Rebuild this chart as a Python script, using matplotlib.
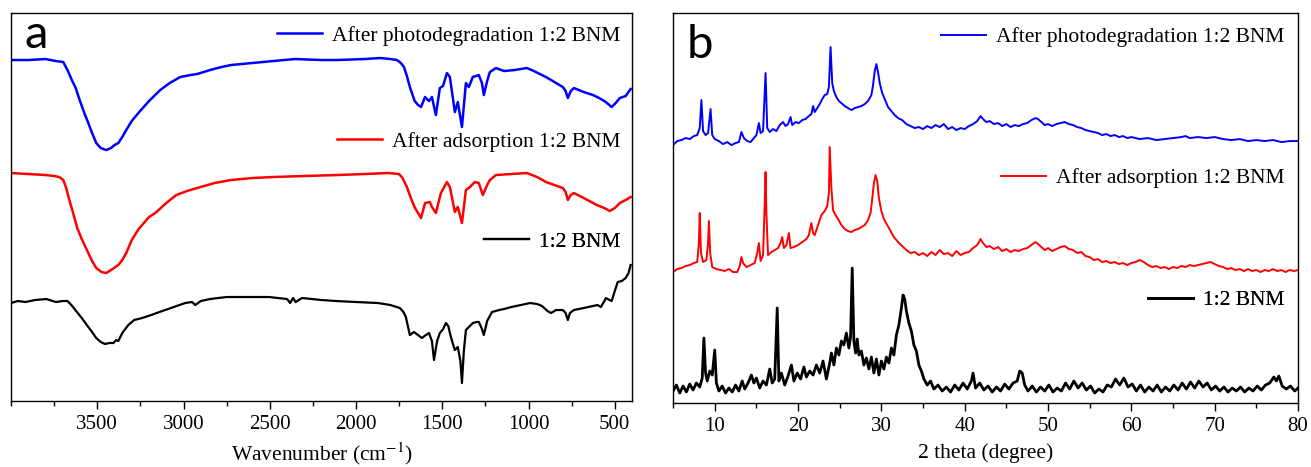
import matplotlib
matplotlib.use("Agg")
import matplotlib.pyplot as plt
from matplotlib.ticker import MultipleLocator

# ---- FTIR (panel a): wavenumber (cm-1) vs transmittance (a.u., offset) ----
wn_blue = [4000, 3900, 3800, 3740, 3697, 3670, 3645, 3627, 3600, 3575, 3552, 3530,
           3506, 3480, 3448, 3420, 3400, 3378, 3355, 3332, 3300, 3262, 3200, 3135,
           3080, 3019, 2960, 2921, 2846, 2780, 2724, 2602, 2480, 2353, 2200, 2110,
           1950, 1861, 1800, 1763, 1740, 1722, 1705, 1688, 1660, 1640, 1623, 1600,
           1577, 1560, 1537, 1514, 1496, 1473, 1456, 1427, 1410, 1386, 1363, 1346,
           1323, 1288, 1270, 1259, 1240, 1224, 1189, 1142, 1080, 1010, 969, 899,
           850, 801, 785, 772, 755, 737, 680, 627, 590, 552, 518, 495, 471, 437, 408]
ftir_blue = [341, 341, 342, 340, 339, 330, 320, 314, 300, 288, 278, 268,
             258, 253, 251, 253, 256, 258, 264, 271, 280, 288, 300, 311,
             318, 324, 326, 327, 331, 334, 336, 338, 340, 342, 341, 341,
             342, 343, 342, 341, 338, 334, 325, 314, 300, 296, 294, 304,
             300, 304, 286, 313, 315, 328, 324, 289, 299, 274, 318, 314,
             324, 326, 318, 306, 320, 329, 333, 330, 331, 333, 330, 324,
             319, 314, 310, 303, 310, 313, 309, 306, 303, 299, 294, 298, 303, 305, 312]

wn_red = [4000, 3900, 3800, 3749, 3720, 3697, 3680, 3662, 3640, 3616, 3590, 3552,
          3530, 3506, 3475, 3448, 3420, 3378, 3355, 3332, 3300, 3260, 3200, 3164,
          3100, 3042, 2980, 2921, 2820, 2724, 2600, 2481, 2300, 2110, 1950, 1815,
          1751, 1730, 1705, 1680, 1658, 1623, 1600, 1572, 1560, 1537, 1508, 1473,
          1456, 1427, 1410, 1386, 1363, 1340, 1311, 1288, 1265, 1240, 1224, 1189,
          1100, 1010, 950, 899, 850, 801, 785, 772, 755, 737, 680, 604, 560, 529,
          500, 471, 437, 408]
ftir_red = [228, 227, 226, 225, 224, 221, 213, 201, 188, 173, 162, 148,
            140, 133, 129, 128, 131, 136, 141, 148, 161, 172, 184, 188,
            198, 206, 210, 213, 218, 221, 223, 224, 225, 226, 227, 228,
            227, 223, 214, 202, 193, 183, 198, 199, 194, 188, 208, 219,
            214, 189, 194, 178, 211, 214, 219, 218, 206, 216, 221, 226,
            227, 228, 224, 219, 216, 213, 209, 201, 206, 208, 203, 196, 193, 190,
            193, 198, 201, 204]

wn_black = [4000, 3960, 3917, 3860, 3795, 3740, 3700, 3673, 3650, 3627, 3590, 3552,
            3530, 3506, 3480, 3455, 3430, 3407, 3390, 3378, 3355, 3320, 3286, 3240,
            3187, 3140, 3089, 3040, 2990, 2950, 2932, 2900, 2846, 2800, 2747, 2650,
            2504, 2400, 2382, 2365, 2350, 2313, 2200, 2116, 2000, 1873, 1800, 1746,
            1725, 1711, 1688, 1664, 1641, 1618, 1595, 1577, 1560, 1548, 1530, 1514,
            1495, 1479, 1465, 1456, 1440, 1427, 1410, 1395, 1386, 1375, 1363, 1340,
            1323, 1300, 1288, 1270, 1259, 1240, 1212, 1170, 1142, 1100, 1044, 992,
            950, 922, 890, 870, 840, 801, 785, 772, 760, 737, 680, 627, 600, 581,
            560, 552, 530, 518, 500, 483, 460, 437, 420, 408]
ftir_black = [98, 100, 99, 101, 102, 99, 100, 100, 96, 91, 83, 74,
              69, 63, 59, 57, 58, 58, 61, 60, 68, 76, 81, 83,
              86, 89, 92, 95, 98, 99, 96, 100, 102, 103, 104, 104,
              104, 102, 98, 103, 99, 103, 101, 100, 99, 98, 96, 93,
              89, 84, 66, 69, 66, 63, 66, 68, 60, 41, 60, 68,
              72, 78, 75, 68, 58, 51, 54, 40, 18, 50, 71, 75,
              78, 79, 79, 72, 66, 80, 89, 91, 92, 94, 96, 98,
              97, 95, 90, 88, 91, 91, 88, 81, 88, 91, 93, 95, 96, 94,
              100, 103, 101, 100, 110, 119, 120, 123, 128, 136]

# ---- XRD (panel b): 2 theta (degree) vs intensity (a.u., offset) ----
tt_blue = [5.0, 5.5, 6.0, 6.5, 7.0, 7.5, 7.9, 8.2, 8.4, 8.6, 8.9, 9.2, 9.5, 9.7,
           10.0, 10.5, 11.0, 11.5, 12.0, 12.5, 12.9, 13.2, 13.5, 13.9, 14.3, 14.7,
           15.0, 15.3, 15.5, 15.8, 16.1, 16.3, 16.6, 17.0, 17.4, 17.8, 18.2, 18.5,
           18.8, 19.1, 19.3, 19.7, 20.1, 20.5, 20.9, 21.3, 21.6, 21.8, 22.0, 22.3,
           22.6, 22.9, 23.2, 23.5, 23.7, 23.9, 24.1, 24.3, 24.6, 24.9, 25.2, 25.6,
           26.0, 26.4, 26.8, 27.2, 27.6, 28.0, 28.4, 28.8, 29.0, 29.2, 29.4, 29.6,
           29.8, 30.1, 30.4, 30.8, 31.2, 31.6, 32.0, 32.5, 33.0, 33.5, 34.0, 34.5,
           35.0, 35.5, 36.0, 36.5, 37.0, 37.5, 38.0, 38.5, 39.0, 39.5, 40.0, 40.5,
           41.0, 41.5, 41.9, 42.2, 42.6, 43.0, 43.5, 44.0, 44.5, 45.0, 45.5, 46.0,
           46.5, 47.0, 47.5, 48.0, 48.5, 48.8, 49.2, 49.6, 50.0, 50.5, 51.0, 51.5,
           52.0, 52.5, 53.0, 53.5, 54.0, 54.5, 55.0, 55.5, 56.0, 56.5, 57.0, 57.5,
           58.0, 58.5, 59.0, 59.5, 60.0, 61.0, 62.0, 63.0, 64.0, 65.0, 66.0, 66.5,
           67.0, 68.0, 69.0, 70.0, 71.0, 72.0, 73.0, 74.0, 75.0, 76.0, 77.0, 78.0,
           79.0, 80.0]
xrd_blue = [258, 262, 263, 265, 264, 267, 268, 275, 303, 272, 268, 270, 294, 268,
            264, 262, 259, 261, 258, 260, 261, 271, 265, 262, 261, 265,
            268, 280, 270, 272, 330, 275, 271, 274, 272, 278, 281, 277,
            279, 286, 278, 281, 280, 283, 284, 287, 289, 297, 291, 295,
            299, 304, 308, 309, 316, 356, 320, 312, 306, 302, 300, 297,
            295, 293, 295, 296, 297, 299, 302, 308, 318, 332, 339, 331,
            320, 310, 304, 296, 292, 288, 285, 283, 279, 277, 275, 276,
            274, 277, 275, 278, 276, 279, 274, 276, 273, 275, 274, 277,
            279, 282, 287, 284, 281, 282, 279, 280, 277, 279, 276, 278,
            277, 279, 280, 283, 285, 284, 281, 278, 279, 277, 279, 280,
            281, 279, 278, 276, 275, 273, 272, 271, 270, 268, 269, 267,
            268, 266, 267, 265, 266, 264, 265, 263, 264, 265, 266, 267,
            265, 266, 265, 266, 264, 263, 264, 262, 263, 262, 263, 261,
            262, 262]

tt_red = [5.0, 5.5, 6.0, 6.5, 7.0, 7.5, 7.9, 8.1, 8.2, 8.35, 8.6, 9.0, 9.2, 9.3,
          9.45, 9.7, 10.2, 10.7, 11.2, 11.7, 12.2, 12.7, 13.0, 13.2, 13.4, 13.8,
          14.3, 14.8, 15.1, 15.3, 15.5, 15.8, 16.0, 16.1, 16.2, 16.4, 16.8, 17.2,
          17.6, 17.9, 18.1, 18.3, 18.6, 18.9, 19.1, 19.5, 20.0, 20.5, 21.0, 21.3,
          21.6, 21.8, 22.0, 22.4, 22.8, 23.2, 23.5, 23.7, 23.8, 24.0, 24.2, 24.5,
          24.8, 25.2, 25.6, 26.0, 26.4, 26.8, 27.2, 27.6, 28.0, 28.4, 28.7, 28.9,
          29.1, 29.3, 29.5, 29.7, 30.0, 30.3, 30.7, 31.1, 31.5, 32.0, 32.5, 33.0,
          33.5, 34.0, 34.5, 35.0, 35.5, 36.0, 36.5, 37.0, 37.5, 38.0, 38.5, 39.0,
          39.5, 40.0, 40.5, 41.0, 41.5, 41.9, 42.2, 42.6, 43.0, 43.5, 44.0, 44.5,
          45.0, 45.5, 46.0, 46.5, 47.0, 47.5, 48.0, 48.5, 48.8, 49.2, 49.6, 50.0,
          50.5, 51.0, 51.5, 52.0, 52.5, 53.0, 53.5, 54.0, 54.5, 55.0, 55.5, 56.0,
          56.5, 57.0, 57.5, 58.0, 58.5, 59.0, 59.5, 60.0, 60.5, 61.0, 61.5, 62.0,
          62.5, 63.0, 63.5, 64.0, 64.5, 65.0, 65.5, 66.0, 66.5, 67.0, 67.5, 68.0,
          68.5, 69.0, 69.5, 70.0, 70.5, 71.0, 71.5, 72.0, 72.5, 73.0, 73.5, 74.0,
          74.5, 75.0, 75.5, 76.0, 76.5, 77.0, 77.5, 78.0, 78.5, 79.0, 79.5, 80.0]
xrd_red = [131, 134, 135, 137, 138, 140, 141, 160, 190, 150, 141, 143, 160, 182,
           150, 136, 134, 133, 132, 134, 131, 131, 137, 146, 140, 136,
           138, 140, 150, 160, 142, 148, 200, 231, 190, 148, 151, 153,
           155, 160, 166, 155, 158, 170, 155, 156, 158, 161, 164, 168,
           180, 170, 168, 178, 188, 192, 197, 210, 256, 215, 193, 188,
           184, 178, 174, 172, 171, 173, 174, 176, 178, 183, 190, 204,
           220, 228, 222, 205, 192, 184, 178, 172, 166, 161, 157, 153,
           150, 151, 148, 150, 147, 151, 148, 153, 149, 150, 147, 152,
           148, 150, 151, 155, 158, 164, 160, 156, 157, 154, 156, 152,
           154, 151, 153, 152, 154, 155, 158, 161, 159, 156, 153, 155,
           152, 154, 156, 157, 154, 153, 150, 151, 147, 146, 143, 144,
           141, 142, 140, 141, 139, 140, 138, 140, 141, 143, 141, 138,
           136, 137, 135, 136, 134, 136, 135, 137, 136, 138, 137, 138,
           139, 140, 141, 139, 137, 136, 134, 135, 133, 134, 132, 134,
           132, 133, 131, 133, 132, 134, 132, 133, 131, 133, 132, 133]

tt_black = [5.0, 5.4, 5.8, 6.2, 6.6, 7.0, 7.4, 7.8, 8.2, 8.5, 8.7, 8.9, 9.1, 9.4,
            9.7, 10.0, 10.2, 10.5, 10.9, 11.3, 11.7, 12.1, 12.5, 12.9, 13.3, 13.6,
            14.0, 14.4, 14.7, 15.0, 15.4, 15.8, 16.2, 16.6, 16.9, 17.2, 17.5, 17.7,
            18.0, 18.4, 18.8, 19.2, 19.5, 19.9, 20.3, 20.7, 21.0, 21.4, 21.8, 22.2,
            22.6, 23.0, 23.4, 23.8, 24.0, 24.3, 24.6, 24.9, 25.2, 25.5, 25.8, 26.1,
            26.3, 26.5, 26.7, 26.9, 27.1, 27.3, 27.6, 27.9, 28.2, 28.5, 28.8, 29.1,
            29.4, 29.7, 30.0, 30.3, 30.6, 30.9, 31.2, 31.5, 31.8, 32.1, 32.4, 32.6,
            32.8, 33.0, 33.3, 33.6, 33.9, 34.2, 34.5, 34.8, 35.1, 35.5, 35.9, 36.3,
            36.8, 37.3, 37.8, 38.3, 38.8, 39.3, 39.8, 40.3, 40.8, 41.0, 41.3, 41.8,
            42.3, 42.8, 43.3, 43.8, 44.3, 44.8, 45.3, 45.8, 46.3, 46.6, 46.9, 47.2,
            47.6, 48.1, 48.6, 49.1, 49.6, 50.1, 50.6, 51.1, 51.6, 52.1, 52.6, 53.1,
            53.6, 54.1, 54.6, 55.1, 55.6, 56.1, 56.6, 57.1, 57.6, 58.1, 58.6, 59.1,
            59.6, 60.1, 60.6, 61.1, 61.6, 62.1, 62.6, 63.1, 63.6, 64.1, 64.6, 65.1,
            65.6, 66.1, 66.6, 67.1, 67.6, 68.1, 68.6, 69.1, 69.6, 70.1, 70.6, 71.1,
            71.6, 72.1, 72.6, 73.1, 73.6, 74.1, 74.6, 75.1, 75.6, 76.1, 76.6, 77.1,
            77.4, 77.7, 78.1, 78.6, 79.1, 79.6, 80.0]
xrd_black = [12, 18, 10, 17, 11, 19, 13, 20, 16, 25, 65, 30, 22, 32,
             28, 53, 20, 12, 17, 10, 15, 11, 18, 12, 22, 14,
             20, 28, 20, 25, 15, 22, 18, 34, 20, 24, 95, 22,
             30, 18, 27, 38, 22, 30, 24, 36, 26, 32, 28, 38,
             30, 42, 24, 40, 50, 38, 55, 48, 62, 58, 70, 55,
             66, 135, 62, 50, 64, 48, 52, 38, 45, 34, 46, 30,
             44, 28, 42, 34, 46, 40, 55, 48, 68, 78, 95, 108,
             104, 92, 80, 72, 58, 52, 38, 32, 24, 18, 22, 14,
             18, 12, 16, 11, 18, 13, 20, 14, 22, 30, 15, 20,
             13, 17, 11, 16, 12, 19, 14, 20, 22, 32, 30, 18,
             12, 17, 11, 16, 12, 18, 11, 15, 12, 20, 14, 22,
             15, 20, 13, 17, 10, 14, 11, 18, 16, 24, 18, 25,
             16, 19, 12, 18, 11, 16, 12, 18, 11, 16, 12, 18,
             13, 20, 14, 21, 15, 22, 16, 20, 13, 17, 12, 16,
             11, 15, 12, 16, 11, 15, 12, 17, 13, 18, 20, 26,
             22, 27, 17, 14, 17, 12, 15]

labels = ["After photodegradation 1:2 BNM", "After adsorption 1:2 BNM", "1:2 BNM"]
colors = ["#0000ff", "#ff0000", "#000000"]

plt.rcParams['font.family'] = ['Liberation Serif', 'DejaVu Serif']
plt.rcParams['mathtext.fontset'] = 'stix'

fig = plt.figure(figsize=(13.11, 4.67), dpi=100)
ax1 = fig.add_axes([0.0084, 0.1413, 0.4737, 0.8308])
ax2 = fig.add_axes([0.5134, 0.137, 0.4767, 0.835])


def tag(ax, line, text, x, y):
    leg = ax.legend([line], [text], loc='center right', bbox_to_anchor=(x, y),
                    frameon=False, handlelength=2.1, handletextpad=0.45,
                    borderpad=0, borderaxespad=0, fontsize=15.5)
    ax.add_artist(leg)


# panel a
l1, = ax1.plot(wn_blue, ftir_blue, color=colors[0], lw=1.8)
l2, = ax1.plot(wn_red, ftir_red, color=colors[1], lw=1.8)
l3, = ax1.plot(wn_black, ftir_black, color=colors[2], lw=1.6)
ax1.set_xlim(4000, 400)
ax1.set_ylim(0, 388)
ax1.xaxis.set_major_locator(MultipleLocator(500))
ax1.xaxis.set_minor_locator(MultipleLocator(250))
ax1.set_xticks([3500, 3000, 2500, 2000, 1500, 1000, 500])
ax1.set_xlabel("Wavenumber (cm$^{-1}$)", fontsize=15.5, labelpad=5)
tag(ax1, l1, labels[0], 0.981, 0.941)
tag(ax1, l2, labels[1], 0.981, 0.668)
tag(ax1, l3, labels[2], 0.981, 0.41)
ax1.text(0.021, 0.91, "a", transform=ax1.transAxes, fontsize=34, family='Lato')

# panel b
m1, = ax2.plot(tt_blue, xrd_blue, color=colors[0], lw=1.4)
m2, = ax2.plot(tt_red, xrd_red, color=colors[1], lw=1.4)
m3, = ax2.plot(tt_black, xrd_black, color=colors[2], lw=2.0)
ax2.set_xlim(5, 80)
ax2.set_ylim(0, 390)
ax2.xaxis.set_major_locator(MultipleLocator(10))
ax2.xaxis.set_minor_locator(MultipleLocator(5))
ax2.set_xlabel("2 theta (degree)", fontsize=15.5, labelpad=5)
tag(ax2, m1, labels[0], 0.978, 0.938)
tag(ax2, m2, labels[1], 0.978, 0.577)
tag(ax2, m3, labels[2], 0.978, 0.264)
ax2.text(0.021, 0.885, "b", transform=ax2.transAxes, fontsize=34, family='Lato')

for ax in (ax1, ax2):
    ax.set_yticks([])
    ax.tick_params(axis='x', which='major', direction='out', length=6, width=1,
                   labelsize=15, pad=4)
    ax.tick_params(axis='x', which='minor', direction='out', length=3.5, width=1)
    for s in ax.spines.values():
        s.set_linewidth(1.0)

fig.savefig("out.png", dpi=100)
